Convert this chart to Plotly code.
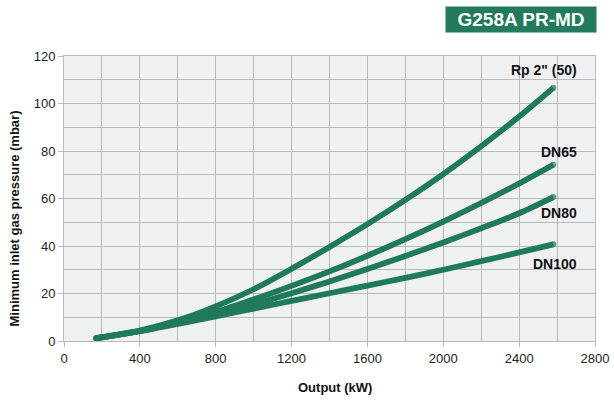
import plotly.graph_objects as go

output_kw = [170, 400, 600, 800, 1000, 1200, 1400, 1600, 1800, 2000, 2200, 2400, 2580]
rp2_50 = [1.2, 4.4, 8.7, 14.6, 21.8, 30.4, 39.6, 49.2, 59.4, 70.3, 82.0, 94.5, 106.6]
dn65 = [1.2, 4.3, 7.9, 12.2, 17.5, 23.2, 29.3, 35.9, 42.9, 50.3, 58.1, 66.3, 74.2]
dn80 = [1.2, 4.2, 7.6, 11.2, 15.4, 20.1, 25.1, 30.3, 35.8, 41.5, 47.5, 53.8, 60.6]
dn100 = [1.2, 4.1, 7.2, 10.4, 13.6, 16.9, 20.1, 23.3, 26.6, 30.0, 33.6, 37.3, 40.7]

series_names = ['Rp 2" (50)', "DN65", "DN80", "DN100"]
series_values = [rp2_50, dn65, dn80, dn100]
label_y = [114.1, 79.4, 53.7, 32.6]

x_ticks = [0, 400, 800, 1200, 1600, 2000, 2400, 2800]
y_ticks = [0, 20, 40, 60, 80, 100, 120]

GREEN = "#1f7a5a"
GRID = "#b7b9bd"
FONT = "Liberation Sans, Arial, Helvetica, sans-serif"

fig = go.Figure()
n = len(output_kw)
msizes = [6] + [0] * (n - 2) + [6]
for name, vals in zip(series_names, series_values):
    fig.add_trace(go.Scatter(
        x=output_kw, y=vals, name=name, mode="lines+markers",
        line=dict(color=GREEN, width=5.8, shape="spline", smoothing=0.9),
        marker=dict(color=GREEN, size=msizes, line=dict(width=0)),
        showlegend=False, hoverinfo="skip",
    ))

annotations = []
for name, ly in zip(series_names, label_y):
    annotations.append(dict(
        x=2716, y=ly, xref="x", yref="y", text="<b>%s</b>" % name,
        showarrow=False, xanchor="right", yanchor="middle",
        font=dict(family=FONT, size=14, color="#111111"),
    ))

annotations.append(dict(
    x=(14 - 64) / 531, y=(341 - 218.5) / 285, xref="paper", yref="paper",
    text="<b>Minimum inlet gas pressure (mbar)</b>", textangle=-90,
    showarrow=False, xanchor="center", yanchor="middle",
    font=dict(family=FONT, size=13, color="#111111"),
))
annotations.append(dict(
    x=(335 - 64) / 531, y=(341 - 387) / 285, xref="paper", yref="paper",
    text="<b>Output (kW)</b>", showarrow=False,
    xanchor="center", yanchor="middle",
    font=dict(family=FONT, size=13, color="#111111"),
))
annotations.append(dict(
    x=(521 - 64) / 531, y=(341 - 19.5) / 285, xref="paper", yref="paper",
    text="<b>G258A PR-MD</b>", showarrow=False,
    xanchor="center", yanchor="middle", width=146, height=21,
    bgcolor="#237a5c", borderpad=2,
    font=dict(family=FONT, size=19, color="#ffffff"),
))

fig.update_layout(
    width=614, height=403,
    margin=dict(l=64, r=19, t=56, b=62, autoexpand=False),
    paper_bgcolor="white", plot_bgcolor="#eef0f2",
    font=dict(family=FONT, size=13, color="#222222"),
    annotations=annotations,
)
fig.update_xaxes(
    range=[0, 2800], tickvals=x_ticks, ticktext=[str(v) for v in x_ticks],
    showgrid=True, gridcolor=GRID, gridwidth=1,
    minor=dict(dtick=200, tick0=0, showgrid=True, gridcolor=GRID, gridwidth=1, ticks=""),
    ticks="outside", ticklen=5, tickcolor=GRID,
    showline=True, linecolor=GRID, linewidth=1, mirror=True,
    zeroline=False, automargin=False, tickfont=dict(size=13, color="#222222"),
)
fig.update_yaxes(
    range=[0, 120], tickvals=y_ticks, ticktext=[str(v) for v in y_ticks],
    showgrid=True, gridcolor=GRID, gridwidth=1,
    minor=dict(dtick=10, tick0=0, showgrid=True, gridcolor=GRID, gridwidth=1, ticks=""),
    ticks="outside", ticklen=5, tickcolor=GRID,
    showline=True, linecolor=GRID, linewidth=1, mirror=True,
    zeroline=False, automargin=False, tickfont=dict(size=13, color="#222222"),
)

fig.write_html(
    "out.html",
    config={"displayModeBar": False},
    post_script="document.body.style.margin='0';document.body.style.padding='0';document.body.style.overflow='hidden';",
)
